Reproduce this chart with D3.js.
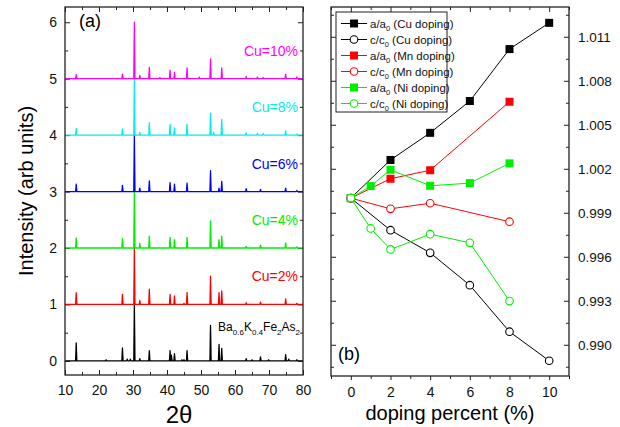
<!DOCTYPE html>
<html>
<head>
<meta charset="utf-8">
<script src="https://cdn.jsdelivr.net/npm/d3@7"></script>
<style>
  body { margin: 0; background: #fff; }
  text { font-family: "Liberation Sans", Arial, sans-serif; }
</style>
</head>
<body>
<div id="chart"></div>
<script>
// ---- panel (a): XRD peaks (2theta, intensity normalised to strongest peak)
const peakPos = [13.3, 22.1, 26.9, 28.3, 29.2, 30.4, 32.0, 34.8, 37.9, 40.9, 41.3, 42.2, 44.4, 45.0, 45.9,
    49.5, 52.8, 53.7, 55.3, 56.1, 63.3, 65.0, 66.6, 67.5, 68.3, 69.9, 74.9, 75.8, 78.2];
const cu0 = [0.32, 0.02, 0.23, 0.03, 0.03, 1.0, 0.04, 0.18, 0, 0.18, 0.10, 0.13, 0.02, 0.02, 0.18,
    0, 0.63, 0, 0.29, 0.22, 0.04, 0.02, 0, 0.07, 0, 0.02, 0.11, 0.03, 0.02];
const cu2 = [0.21, 0, 0.18, 0, 0, 1.0, 0.07, 0.27, 0, 0.18, 0, 0.15, 0, 0.02, 0.21,
    0, 0.50, 0, 0.21, 0.24, 0.03, 0, 0, 0.04, 0, 0, 0.10, 0, 0.02];
const cu4 = [0.18, 0, 0.17, 0, 0, 1.0, 0.08, 0.21, 0, 0.19, 0, 0.15, 0, 0, 0.19,
    0, 0.48, 0, 0.15, 0.21, 0.03, 0, 0, 0.05, 0, 0, 0.09, 0, 0.02];
const cu6 = [0.13, 0, 0.11, 0, 0, 1.0, 0.06, 0.19, 0, 0.16, 0, 0.13, 0, 0, 0.15,
    0, 0.37, 0, 0.06, 0.18, 0.05, 0, 0, 0.04, 0, 0, 0.06, 0, 0.02];
const cu8 = [0.12, 0, 0.11, 0, 0, 1.0, 0.05, 0.22, 0, 0.19, 0, 0.13, 0, 0, 0.19,
    0, 0.39, 0.05, 0, 0.28, 0.04, 0, 0.03, 0, 0.03, 0, 0.08, 0, 0.02];
const cu10 = [0.07, 0, 0.08, 0, 0, 1.0, 0.06, 0.20, 0.02, 0.15, 0, 0.11, 0, 0, 0.19,
    0.03, 0.35, 0, 0, 0.19, 0.04, 0, 0.03, 0, 0.02, 0, 0.08, 0, 0.03];
const xrdSeries = [cu0, cu2, cu4, cu6, cu8, cu10];
const xrdOffsets = [0, 1, 2, 3, 4, 5];
const xrdLabels = ['', 'Cu=2%', 'Cu=4%', 'Cu=6%', 'Cu=8%', 'Cu=10%'];
const xrdColors = ['#000000', '#ff0000', '#00ee00', '#0000ff', '#00eeee', '#ff00ff'];
const xrdXTicks = [10, 20, 30, 40, 50, 60, 70, 80];
const xrdYTicks = [0, 1, 2, 3, 4, 5, 6];

// ---- panel (b): lattice parameter ratios vs doping
const cuX = [0, 2, 4, 6, 8, 10];
const cuA = [1.0000, 1.0026, 1.00445, 1.00662, 1.01016, 1.01195];
const cuC = [1.0000, 0.99781, 0.99627, 0.99406, 0.99089, 0.98891];
const mnX = [0, 2, 4, 8];
const mnA = [1.0000, 1.00132, 1.0019, 1.00657];
const mnC = [1.0000, 0.99927, 0.99965, 0.99839];
const niX = [0, 1, 2, 4, 6, 8];
const niA = [1.0000, 1.00082, 1.00193, 1.00084, 1.00102, 1.00237];
const niC = [1.0000, 0.99793, 0.9965, 0.99754, 0.99695, 0.99298];
const latYTicks = [0.990, 0.993, 0.996, 0.999, 1.002, 1.005, 1.008, 1.011];
const latXTicks = [0, 2, 4, 6, 8, 10];

const latSeries = [
    { x: cuX, y: cuA, ratio: 'a/a', dopant: 'Cu', color: '#000000', filled: true },
    { x: cuX, y: cuC, ratio: 'c/c', dopant: 'Cu', color: '#000000', filled: false },
    { x: mnX, y: mnA, ratio: 'a/a', dopant: 'Mn', color: '#ff0000', filled: true },
    { x: mnX, y: mnC, ratio: 'c/c', dopant: 'Mn', color: '#ff0000', filled: false },
    { x: niX, y: niA, ratio: 'a/a', dopant: 'Ni', color: '#00ee00', filled: true },
    { x: niX, y: niC, ratio: 'c/c', dopant: 'Ni', color: '#00ee00', filled: false }
];

const W = 620, H = 427;
const svg = d3.select('#chart').append('svg').attr('width', W).attr('height', H);

const frameColor = '#222';

// helper for inward/outward ticks without domain line
function drawAxis(g, axis) {
    g.call(axis);
    g.select('.domain').remove();
    g.selectAll('line').attr('stroke', frameColor).attr('stroke-width', 1);
    g.selectAll('text').attr('fill', '#111').style('font-family', '"Liberation Sans", Arial, sans-serif');
}

// ================= Panel (a) =================
const A = { left: 65, right: 303, top: 7, bottom: 375 };
const xA = d3.scaleLinear().domain([10, 80]).range([A.left, A.right]);
const yA = d3.scaleLinear().domain([-0.25, 6.27]).range([A.bottom, A.top]);

const gA = svg.append('g');
const minorX = d3.range(15, 80, 10);
const minorY = d3.range(0.5, 6.5, 1);

gA.append('g').attr('transform', `translate(0,${A.bottom})`)
    .call(g => drawAxis(g, d3.axisBottom(xA).tickValues(xrdXTicks).tickSize(-5).tickPadding(10)))
    .selectAll('text').attr('font-size', 14);
gA.append('g').attr('transform', `translate(0,${A.bottom})`)
    .call(g => drawAxis(g, d3.axisBottom(xA).tickValues(minorX).tickSize(-3).tickFormat('')));
gA.append('g').attr('transform', `translate(0,${A.top})`)
    .call(g => drawAxis(g, d3.axisTop(xA).tickValues(xrdXTicks).tickSize(-5).tickFormat('')));
gA.append('g').attr('transform', `translate(0,${A.top})`)
    .call(g => drawAxis(g, d3.axisTop(xA).tickValues(minorX).tickSize(-3).tickFormat('')));
gA.append('g').attr('transform', `translate(${A.left},0)`)
    .call(g => drawAxis(g, d3.axisLeft(yA).tickValues(xrdYTicks).tickSize(-5).tickPadding(8).tickFormat(d3.format('d'))))
    .selectAll('text').attr('font-size', 14);
gA.append('g').attr('transform', `translate(${A.left},0)`)
    .call(g => drawAxis(g, d3.axisLeft(yA).tickValues(minorY).tickSize(-3).tickFormat('')));
gA.append('g').attr('transform', `translate(${A.right},0)`)
    .call(g => drawAxis(g, d3.axisRight(yA).tickValues(xrdYTicks).tickSize(-5).tickFormat('')));
gA.append('g').attr('transform', `translate(${A.right},0)`)
    .call(g => drawAxis(g, d3.axisRight(yA).tickValues(minorY).tickSize(-3).tickFormat('')));

// patterns: baseline with a narrow spike at each read-off peak
const halfW = 0.18;
const xrdLine = d3.line().x(d => xA(d[0])).y(d => yA(d[1]));
xrdSeries.forEach((vals, i) => {
    const off = xrdOffsets[i];
    const pts = [[10, off]];
    peakPos.forEach((p, j) => {
        if (vals[j] > 0) {
            pts.push([p - halfW, off], [p, off + vals[j]], [p + halfW, off]);
        }
    });
    pts.push([80, off]);
    gA.append('path')
        .datum(pts)
        .attr('d', xrdLine)
        .attr('fill', 'none')
        .attr('stroke', xrdColors[i])
        .attr('stroke-width', 1.3)
        .attr('stroke-linejoin', 'round');
    if (xrdLabels[i]) {
        gA.append('text')
            .attr('x', A.right - 5)
            .attr('y', yA(off) - 23)
            .attr('text-anchor', 'end')
            .attr('font-size', 14)
            .attr('fill', xrdColors[i])
            .text(xrdLabels[i]);
    }
});

// parent compound label with subscripts
const ba = gA.append('text')
    .attr('x', A.right - 3)
    .attr('y', yA(0) - 30)
    .attr('text-anchor', 'end')
    .attr('font-size', 12)
    .attr('fill', '#000');
[['Ba', false], ['0.6', true], ['K', false], ['0.4', true], ['Fe', false], ['2', true], ['As', false], ['2', true]]
    .forEach(([t, sub], i) => {
        ba.append('tspan')
            .attr('font-size', sub ? 8 : 12)
            .attr('dy', i === 0 ? 0 : (sub ? 4 : -4))
            .text(t);
    });

gA.append('rect')
    .attr('x', A.left).attr('y', A.top)
    .attr('width', A.right - A.left).attr('height', A.bottom - A.top)
    .attr('fill', 'none').attr('stroke', frameColor).attr('stroke-width', 1.3);

gA.append('text').attr('x', 79).attr('y', 27).attr('font-size', 18).text('(a)');

gA.append('text')
    .attr('transform', `translate(33,${(A.top + A.bottom) / 2}) rotate(-90)`)
    .attr('text-anchor', 'middle')
    .attr('font-size', 20)
    .text('Intensity (arb units)');

gA.append('text')
    .attr('x', (A.left + A.right) / 2 - 5)
    .attr('y', 423)
    .attr('text-anchor', 'middle')
    .attr('font-size', 24)
    .text('2θ');

// ================= Panel (b) =================
const B = { left: 331, right: 569, top: 7, bottom: 376 };
const xB = d3.scaleLinear().domain([-1, 11]).range([B.left, B.right]);
const yB = d3.scaleLinear().domain([0.98787, 1.01303]).range([B.bottom, B.top]);
const gB = svg.append('g');

const minorXB = d3.range(-1, 12, 2);
const minorYB = latYTicks.map(v => v + 0.0015).concat([latYTicks[0] - 0.0015]);
const fmt = d3.format('.3f');

gB.append('g').attr('transform', `translate(0,${B.bottom})`)
    .call(g => drawAxis(g, d3.axisBottom(xB).tickValues(latXTicks).tickSize(4).tickPadding(7)))
    .selectAll('text').attr('font-size', 14);
gB.append('g').attr('transform', `translate(0,${B.bottom})`)
    .call(g => drawAxis(g, d3.axisBottom(xB).tickValues(minorXB).tickSize(3).tickFormat('')));
gB.append('g').attr('transform', `translate(0,${B.top})`)
    .call(g => drawAxis(g, d3.axisTop(xB).tickValues(latXTicks).tickSize(-5).tickFormat('')));
gB.append('g').attr('transform', `translate(0,${B.top})`)
    .call(g => drawAxis(g, d3.axisTop(xB).tickValues(minorXB).tickSize(-3).tickFormat('')));
gB.append('g').attr('transform', `translate(${B.right},0)`)
    .call(g => drawAxis(g, d3.axisRight(yB).tickValues(latYTicks).tickSize(-5).tickPadding(9).tickFormat(fmt)))
    .selectAll('text').attr('font-size', 13.5);
gB.append('g').attr('transform', `translate(${B.right},0)`)
    .call(g => drawAxis(g, d3.axisRight(yB).tickValues(minorYB).tickSize(-3).tickFormat('')));
gB.append('g').attr('transform', `translate(${B.left},0)`)
    .call(g => drawAxis(g, d3.axisLeft(yB).tickValues(latYTicks).tickSize(-5).tickFormat('')));
gB.append('g').attr('transform', `translate(${B.left},0)`)
    .call(g => drawAxis(g, d3.axisLeft(yB).tickValues(minorYB).tickSize(-3).tickFormat('')));

const latLine = d3.line().x(d => xB(d[0])).y(d => yB(d[1]));
const sq = 8, rad = 3.8;
function drawMarker(g, s, cx, cy) {
    if (s.filled) {
        g.append('rect')
            .attr('x', cx - sq / 2).attr('y', cy - sq / 2)
            .attr('width', sq).attr('height', sq)
            .attr('fill', s.color);
    } else {
        g.append('circle')
            .attr('cx', cx).attr('cy', cy).attr('r', rad)
            .attr('fill', '#fff').attr('stroke', s.color).attr('stroke-width', 1.1);
    }
}

latSeries.forEach(s => {
    const pts = s.x.map((x, i) => [x, s.y[i]]);
    const g = gB.append('g');
    g.append('path').datum(pts).attr('d', latLine)
        .attr('fill', 'none').attr('stroke', s.color).attr('stroke-width', 1);
    pts.forEach(p => drawMarker(g, s, xB(p[0]), yB(p[1])));
});

gB.append('rect')
    .attr('x', B.left).attr('y', B.top)
    .attr('width', B.right - B.left).attr('height', B.bottom - B.top)
    .attr('fill', 'none').attr('stroke', frameColor).attr('stroke-width', 1.3);

// legend
const leg = gB.append('g');
leg.append('rect')
    .attr('x', 336).attr('y', 12).attr('width', 111).attr('height', 100)
    .attr('fill', '#fff').attr('stroke', frameColor).attr('stroke-width', 1);
latSeries.forEach((s, i) => {
    const y = 23.5 + i * 16;
    leg.append('line').attr('x1', 341).attr('x2', 367).attr('y1', y).attr('y2', y)
        .attr('stroke', s.color).attr('stroke-width', 1);
    drawMarker(leg, s, 354, y);
    const t = leg.append('text').attr('x', 370).attr('y', y + 4).attr('font-size', 11.5).attr('fill', '#111');
    t.append('tspan').text(s.ratio);
    t.append('tspan').attr('font-size', 7.5).attr('dy', 3).text('0');
    t.append('tspan').attr('dy', -3).text(` (${s.dopant} doping)`);
});

gB.append('text').attr('x', 338).attr('y', 360).attr('font-size', 18).text('(b)');

gB.append('text')
    .attr('x', (B.left + B.right) / 2)
    .attr('y', 420)
    .attr('text-anchor', 'middle')
    .attr('font-size', 20)
    .text('doping percent (%)');
</script>
</body>
</html>
